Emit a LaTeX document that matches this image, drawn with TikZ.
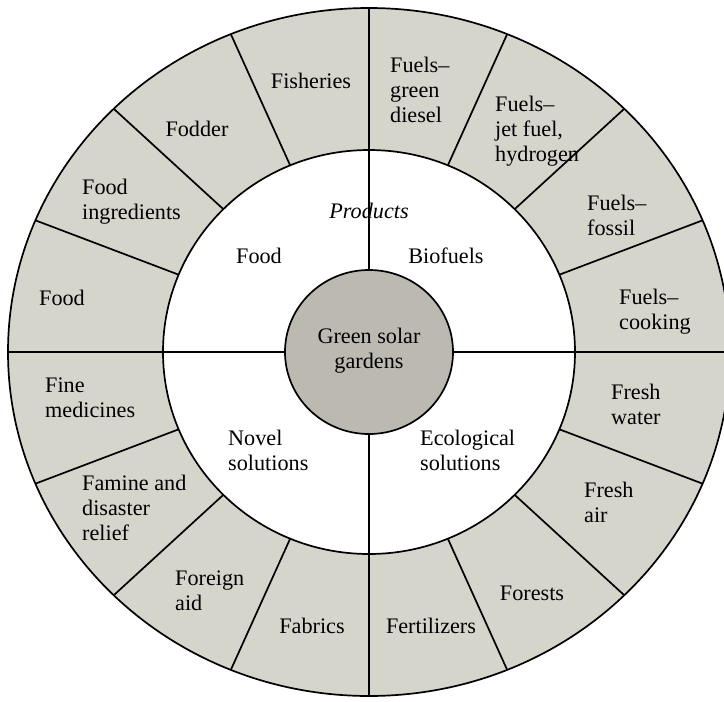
\documentclass[tikz,border=0pt]{standalone}
\usepackage{fontspec}
\setmainfont{Liberation Serif}
\definecolor{ringfill}{RGB}{214,213,204}
\definecolor{hubfill}{RGB}{188,186,176}
\begin{document}
\begin{tikzpicture}[x=1pt,y=-1pt,
  divider/.style={line width=1.7pt, black},
  lbl/.style={inner sep=0pt, align=left, font=\fontsize{22.2}{25}\selectfont},
  lblw/.style={lbl, anchor=west},
  hubtext/.style={inner sep=0pt, align=center, font=\fontsize{22.2}{25}\selectfont}]
\useasboundingbox (0,0) rectangle (724,702);
\fill[white] (0,0) rectangle (724,702);
% outer ring
\draw[divider, fill=ringfill] (369,352) ellipse [x radius=361pt, y radius=344pt];
% inner white disc
\draw[divider, fill=white] (369,352) ellipse [x radius=206pt, y radius=202pt];
% radial dividers in the ring
\foreach \a in {22.5,45,67.5,112.5,135,157.5,202.5,225,247.5,292.5,315,337.5}{
  \draw[divider] ({369+206*cos(\a)},{352-202*sin(\a)}) -- ({369+361*cos(\a)},{352-344*sin(\a)});
}
% main cross
\draw[divider] (369,8) -- (369,696);
\draw[divider] (8,352) -- (730,352);
% hub
\draw[divider, fill=hubfill] (369,352) ellipse [x radius=84pt, y radius=82pt];
\node[hubtext] (hub) at (369,351) {Green solar\\gardens};
% inner ring labels
\node[lbl, font=\fontsize{22.2}{25}\selectfont\itshape] (products) at (369,211) {Products};
\node[lbl] (foodin) at (259,256) {Food};
\node[lbl] (biofuels) at (446,256) {Biofuels};
\node[lblw] (novel) at (228,450) {Novel\\solutions};
\node[lblw] (ecological) at (420,450) {Ecological\\solutions};
% outer ring labels
\node[lbl] (fisheries) at (311,81) {Fisheries};
\node[lbl] (fodder) at (197,129) {Fodder};
\node[lblw] (foodingr) at (82,202) {Food\\ingredients};
\node[lbl] (foodout) at (62,298) {Food};
\node[lblw] (greendiesel) at (390,90) {Fuels–\\green\\diesel};
\node[lblw] (jetfuel) at (495,131) {Fuels–\\jet fuel,\\hydrogen};
\node[lblw] (fossil) at (587,215) {Fuels–\\fossil};
\node[lblw] (cooking) at (619,312) {Fuels–\\cooking};
\node[lblw] (freshwater) at (611,404) {Fresh\\water};
\node[lblw] (freshair) at (584,502) {Fresh\\air};
\node[lbl] (forests) at (532,593) {Forests};
\node[lbl] (fertilizers) at (431,626) {Fertilizers};
\node[lbl] (fabrics) at (312,626) {Fabrics};
\node[lblw] (foreign) at (175,591) {Foreign\\aid};
\node[lblw] (famine) at (82,508) {Famine and\\disaster\\relief};
\node[lblw] (medicines) at (45,398) {Fine\\medicines};
\end{tikzpicture}
\end{document}
